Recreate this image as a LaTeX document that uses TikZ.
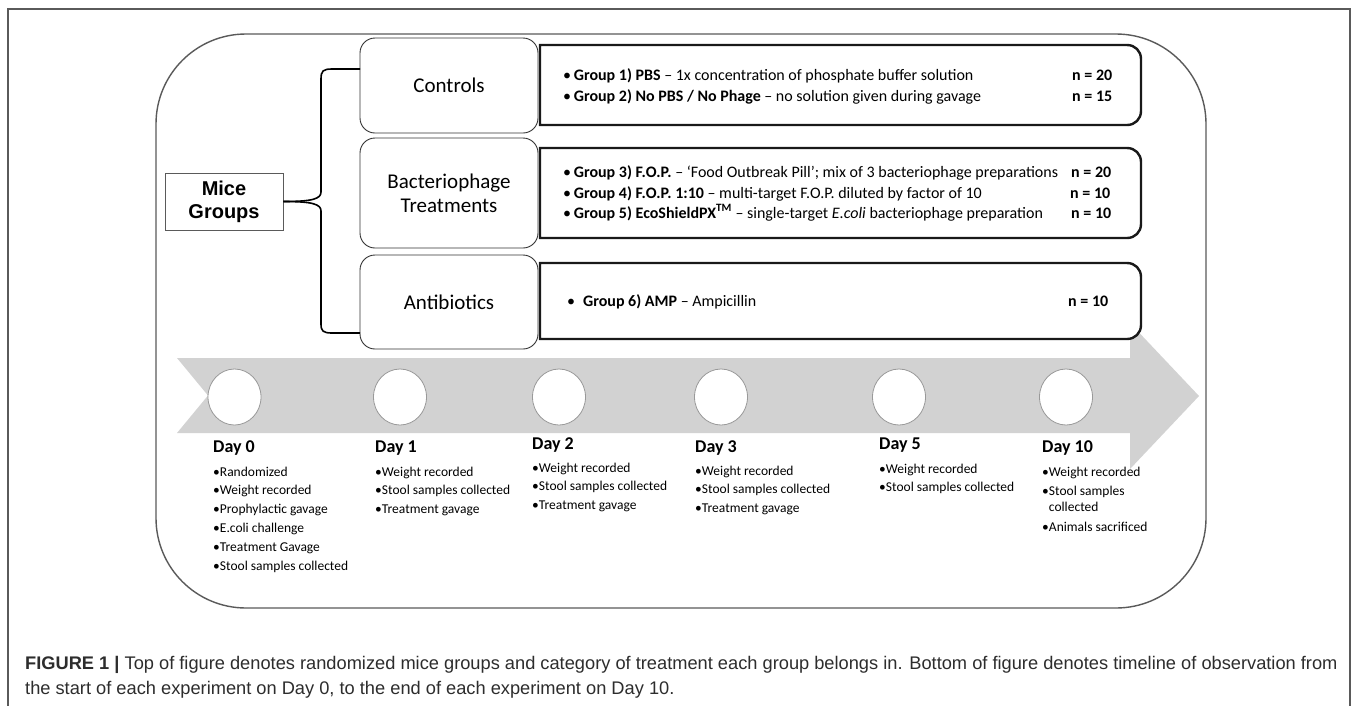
\documentclass[tikz,border=0pt]{standalone}
\usepackage{fontspec}
\setmainfont{Carlito}
\newfontfamily\arialf{Liberation Sans}
\usetikzlibrary{shapes.geometric}
\definecolor{bandgray}{RGB}{210,210,210}
\definecolor{framegray}{RGB}{90,90,90}
\definecolor{capgray}{RGB}{45,45,45}
\tikzset{
 catbox/.style={draw=black!80, line width=0.9pt, rounded corners=15pt, minimum width=178pt, inner sep=0pt, align=center, font=\fontsize{21}{24}\selectfont},
 dline/.style={anchor=base west, inner sep=0pt, font=\fontsize{16}{19}\selectfont},
 dayl/.style={anchor=base west, inner sep=0pt, font=\bfseries\fontsize{18}{20}\selectfont},
 lst/.style={anchor=base west, inner sep=0pt, font=\fontsize{13.5}{16}\selectfont},
 dot/.style={ellipse, draw=black!40, fill=white, line width=0.8pt, minimum width=53pt, minimum height=56pt, inner sep=0pt},
 dbox/.style={draw=black!90, fill=white, line width=2.4pt},
 bracel/.style={draw=black, line width=1.6pt},
 capt/.style={anchor=base west, inner sep=0pt, font=\arialf\fontsize{18.25}{21}\selectfont, text=capgray},
}
\newcommand\mydetbox[4]{\draw[dbox] (#1,#2) -- (#3-14,#2) .. controls (#3-6,#2) and (#3,#2+6) .. (#3,#2+14) -- (#3,#4-14) .. controls (#3,#4-6) and (#3-6,#4) .. (#3-14,#4) -- (#1,#4) -- cycle;}
\begin{document}
\begin{tikzpicture}[x=1pt,y=-1pt]
\useasboundingbox (0,0) rectangle (1357,705);
\fill[white] (0,0) rectangle (1357,705);
% outer frame
\draw[framegray, line width=1.3pt] (8,707) -- (8,9) -- (1350,9) -- (1350,707);
% big rounded panel
\draw[framegray, line width=1.4pt, rounded corners=90pt] (156,34) rectangle (1206,608);
% timeline arrow band
\fill[bandgray] (177,358) -- (1130,358) -- (1130,323) -- (1199,396) -- (1130,469) -- (1130,433) -- (177,433) -- (208,395.5) -- cycle;

% Mice groups
\node[draw=framegray, line width=0.9pt, minimum width=118pt, minimum height=57pt, inner sep=0pt, align=center, font=\arialf\bfseries\fontsize{20}{23}\selectfont] (mice) at (224,201.5) {Mice\\Groups};

% category boxes
\node[catbox, minimum height=95pt] (ctrl) at (449,85.5) {Controls};
\node[catbox, minimum height=110pt] (bact) at (449,193) {Bacteriophage\\Treatments};
\node[catbox, minimum height=94pt] (anti) at (449,302) {Antibiotics};

% brace
\coordinate (bt) at (360,69);
\coordinate (bb) at (360,333);
\draw[bracel] (bt) -- (332,69) .. controls (323,69) and (321,71) .. (321,79) -- (321,192) .. controls (321,199) and (312,201.5) .. (mice.east);
\draw[bracel] (mice.east) .. controls (312,201.5) and (321,204) .. (321,211) -- (321,324) .. controls (321,331) and (323,333) .. (332,333) -- (bb);

% detail boxes
\mydetbox{540}{45}{1141}{125}
\mydetbox{540}{148}{1141}{238}
\mydetbox{540}{263}{1141}{339}

\node[dline] (g1) at (563,80) {•\,\textbf{Group 1) PBS} – 1x concentration of phosphate buffer solution};
\node[dline] (n1) at (1072,80) {\textbf{n = 20}};
\node[dline] (g2) at (563,101) {•\,\textbf{Group 2) No PBS / No Phage} – no solution given during gavage};
\node[dline] (n2) at (1072,101) {\textbf{n = 15}};
\node[dline] (g3) at (563,177) {•\,\textbf{Group 3) F.O.P.} – ‘Food Outbreak Pill’; mix of 3 bacteriophage preparations};
\node[dline] (n3) at (1071,177) {\textbf{n = 20}};
\node[dline] (g4) at (563,198) {•\,\textbf{Group 4) F.O.P. 1:10} – multi-target F.O.P. diluted by factor of 10};
\node[dline] (n4) at (1070,198) {\textbf{n = 10}};
\node[dline] (g5) at (563,218) {•\,\textbf{Group 5) EcoShieldPX\textsuperscript{TM}} – single-target \textit{E.coli} bacteriophage preparation};
\node[dline] (n5) at (1071,218) {\textbf{n = 10}};
\node[dline] (g6) at (567,306) {•\enspace\textbf{Group 6) AMP} – Ampicillin};
\node[dline] (n6) at (1068,306) {\textbf{n = 10}};

% timeline circles
\node[dot] (c0) at (234.5,397) {};
\node[dot] (c1) at (400,397) {};
\node[dot] (c2) at (559,397) {};
\node[dot] (c3) at (721,397) {};
\node[dot] (c4) at (899,397) {};
\node[dot] (c5) at (1066,397) {};

% day labels
\node[dayl] (l0) at (213,452) {Day 0};
\node[dayl] (l1) at (375,452) {Day 1};
\node[dayl] (l2) at (532,449) {Day 2};
\node[dayl] (l3) at (695,452) {Day 3};
\node[dayl] (l4) at (879,449) {Day 5};
\node[dayl] (l5) at (1042,452) {Day 10};

% lists
\foreach \t [count=\i] in {Randomized,Weight recorded,Prophylactic gavage,E.coli challenge,Treatment Gavage,Stool samples collected}
  \node[lst] (a\i) at (213,{476+18.9*(\i-1)}) {•\t};
\foreach \t [count=\i] in {Weight recorded,Stool samples collected,Treatment gavage}
  \node[lst] (b\i) at (375,{476+18.9*(\i-1)}) {•\t};
\foreach \t [count=\i] in {Weight recorded,Stool samples collected,Treatment gavage}
  \node[lst] (e\i) at (532,{472+18.9*(\i-1)}) {•\t};
\foreach \t [count=\i] in {Weight recorded,Stool samples collected,Treatment gavage}
  \node[lst] (f\i) at (695,{475+18.9*(\i-1)}) {•\t};
\foreach \t [count=\i] in {Weight recorded,Stool samples collected}
  \node[lst] (h\i) at (879,{473+18.9*(\i-1)}) {•\t};
\node[lst] (k1) at (1042,476) {•Weight recorded};
\node[lst] (k2) at (1042,495) {•Stool samples};
\node[lst] (k3) at (1042,511) {\phantom{•}collected};
\node[lst] (k4) at (1042,531) {•Animals sacrificed};

% caption
\node[capt] (cap1) at (25,669) {\textbf{FIGURE 1 |} Top of figure denotes randomized mice groups and category of treatment each group belongs in. Bottom of figure denotes timeline of observation from};
\node[capt] (cap2) at (25,694) {the start of each experiment on Day 0, to the end of each experiment on Day 10.};
\end{tikzpicture}
\end{document}
